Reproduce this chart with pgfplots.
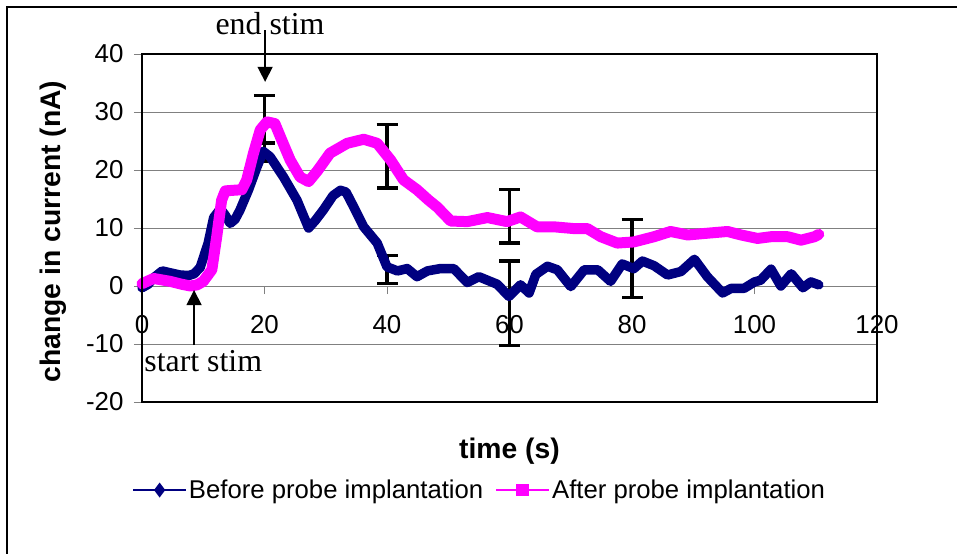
\documentclass[border=0pt]{standalone}
\usepackage{pgfplots}
\pgfplotsset{compat=1.18}
\usetikzlibrary{arrows.meta}
\usepackage{fontspec}
\setmainfont{Liberation Sans}
\newfontfamily\seriffont{Liberation Serif}
\definecolor{navyb}{RGB}{0,0,128}
\definecolor{mag}{RGB}{255,0,255}
\definecolor{gridg}{RGB}{128,128,128}
\begin{document}
\begin{tikzpicture}
\useasboundingbox (-142bp,-152bp) rectangle (815bp,402bp);
\draw[line width=2bp] (-135bp,-160bp) -- (-135bp,394.7bp) -- (820bp,394.7bp);
\begin{axis}[
  at={(0,0)}, anchor=south west,
  scale only axis, width=735bp, height=348bp,
  xmin=0, xmax=120, ymin=-20, ymax=40,
  xtick={0,20,...,120}, ytick={-20,-10,...,40},
  axis x line=middle, axis y line=left,
  axis line style={-},
  x axis line style={gridg, line width=1bp},
  y axis line style={black, line width=2bp},
  hide obscured x ticks=false,
  tick align=outside,
  major tick length=8bp,
  tick style={gridg, line width=1bp},
  ymajorgrids, grid style={gridg, line width=1bp},
  /pgf/number format/assume math mode=true,
  ticklabel style={font=\fontsize{26}{30}\selectfont, text=black},
  xticklabel style={yshift=-18bp},
  yticklabel style={xshift=-7bp},
  every axis x label/.style={at={(axis description cs:0.5,-0.161)}, anchor=base},
  every axis y label/.style={at={(axis description cs:-0.1211,0.49)}, anchor=center, rotate=90},
  label style={font=\fontsize{28.4}{32}\selectfont\bfseries},
  xlabel={time (s)}, ylabel={change in current (nA)},
  legend columns=2,
  legend style={at={(axis description cs:-0.0136,-0.253)}, anchor=west, draw=none, fill=none,
    inner sep=0pt, font=\fontsize{25.8}{30}\selectfont,
    /tikz/every even column/.append style={column sep=10bp}},
  legend cell align=left,
  legend image code/.code={\draw[mark repeat=2, mark phase=2, #1] plot coordinates {(0bp,0bp) (26.5bp,0bp) (53bp,0bp)};},
  clip=false,
]
% error bars
\addplot[only marks, mark=*, mark size=0pt, forget plot,
  error bars/.cd, y dir=both, y explicit, error mark=|,
  error bar style={line width=3.2bp, black},
  error mark options={black, line width=3.2bp, mark size=10.5bp}]
coordinates {
 (20,28.8) +- (0,4.0)
 (20,23.0) +- (0,1.6)
 (40,22.4) +- (0,5.5)
 (40,2.85) +- (0,2.4)
 (60,12.05) +- (0,4.65)
 (60,-3.0) +- (0,7.3)
 (80,7.6) +- (0,3.8)
 (80,3.0) +- (0,4.95)
};
% before
\addplot[navyb, line width=9.5bp, line join=round, line cap=round, mark=none, forget plot] coordinates {
(0,-0.3) (1,0.3) (2,1.5) (3.3,2.6) (4.5,2.3) (6.2,1.9) (7.6,1.8) (8.5,2.1) (9.5,3.2) (10.8,7.4) (11.7,11.8) (12.8,13.3) (13.6,12.2) (14.4,10.8) (15.2,11.5) (16,13.1) (17.4,16.6) (18.8,20.6) (19.8,23.2) (20.9,22.3) (23.1,18.8) (25.3,14.8) (27.2,10.0) (28.3,11.3) (29.6,13.1) (31.2,15.6) (32.4,16.5) (33.3,16.2) (34,14.8) (36.2,10.2) (38.4,7.4) (40,3.3) (41.7,2.6) (43.3,3.0) (44.9,1.6) (46.6,2.6) (48.7,3.0) (50.9,3.0) (53.1,0.6) (55,1.6) (58,0.3) (59.9,-1.8) (61.8,0.2) (63.2,-1.2) (64.3,2.0) (66.2,3.4) (67.8,2.8) (70,-0.1) (72.2,2.8) (74.4,2.8) (76.5,0.8) (78.4,3.8) (80.3,3.0) (81.7,4.3) (83.6,3.5) (85.8,1.9) (88,2.5) (90.2,4.6) (92.3,1.6) (94.8,-1.2) (96.2,-0.4) (98.3,-0.4) (100,0.7) (101,1.0) (102.7,2.9) (104.3,0.0) (106,2.1) (107.9,-0.3) (109.2,0.7) (110.5,0.2)
};
% after
\addplot[mag, line width=11bp, line join=round, line cap=round, mark=none, forget plot] coordinates {
(0,0.4) (1.9,1.3) (4.6,0.8) (6.5,0.3) (7.9,0.0) (9,0.2) (10,0.8) (11.4,2.8) (12.2,8.5) (13,14.8) (13.6,16.4) (14.9,16.5) (16.3,16.6) (17.1,18.3) (18.2,22.9) (19.3,26.9) (20.4,28.3) (21.7,28.0) (22.8,25.2) (24.2,21.7) (25.8,18.8) (27.2,18.0) (28.6,19.8) (30.7,22.9) (33.5,24.6) (36.2,25.3) (38.4,24.6) (40.6,21.7) (42.7,18.3) (44.9,16.6) (46.8,14.8) (48.2,13.6) (50.4,11.2) (53.1,11.1) (56.4,11.8) (59.6,11.1) (61.8,11.9) (64.5,10.2) (67.3,10.2) (70.5,9.9) (72.7,9.9) (74.9,8.5) (77.6,7.4) (80.3,7.6) (83.6,8.5) (86.3,9.4) (89.1,8.8) (92.3,9.1) (95.6,9.4) (97.8,8.8) (100.5,8.2) (102.7,8.5) (105.4,8.5) (107.6,7.9) (109.8,8.5) (110.5,8.9)
};
\addlegendimage{navyb, line width=1.8bp, mark=diamond*, mark size=6bp, mark options={solid}}
\addlegendentry{Before probe implantation}
\addlegendimage{mag, line width=1.8bp, mark=square*, mark size=5.5bp, mark options={solid}}
\addlegendentry{After probe implantation}
\draw[black, line width=2bp] (rel axis cs:0,0) rectangle (rel axis cs:1,1);
\draw[line width=1.5bp, -{Triangle[width=15bp,length=15bp]}] (axis cs:20.1,44.1) -- (axis cs:20.1,35.2);
\node[font=\seriffont\fontsize{32}{36}\selectfont, anchor=base, inner sep=0pt] at (axis cs:20.9,43.3) {end stim};
\draw[line width=1.5bp, -{Triangle[width=15bp,length=15bp]}] (axis cs:8.5,-10.2) -- (axis cs:8.5,-0.7);
\node[font=\seriffont\fontsize{32}{36}\selectfont, anchor=base, inner sep=0pt] at (axis cs:10.0,-14.8) {start stim};
\end{axis}
\end{tikzpicture}
\end{document}
